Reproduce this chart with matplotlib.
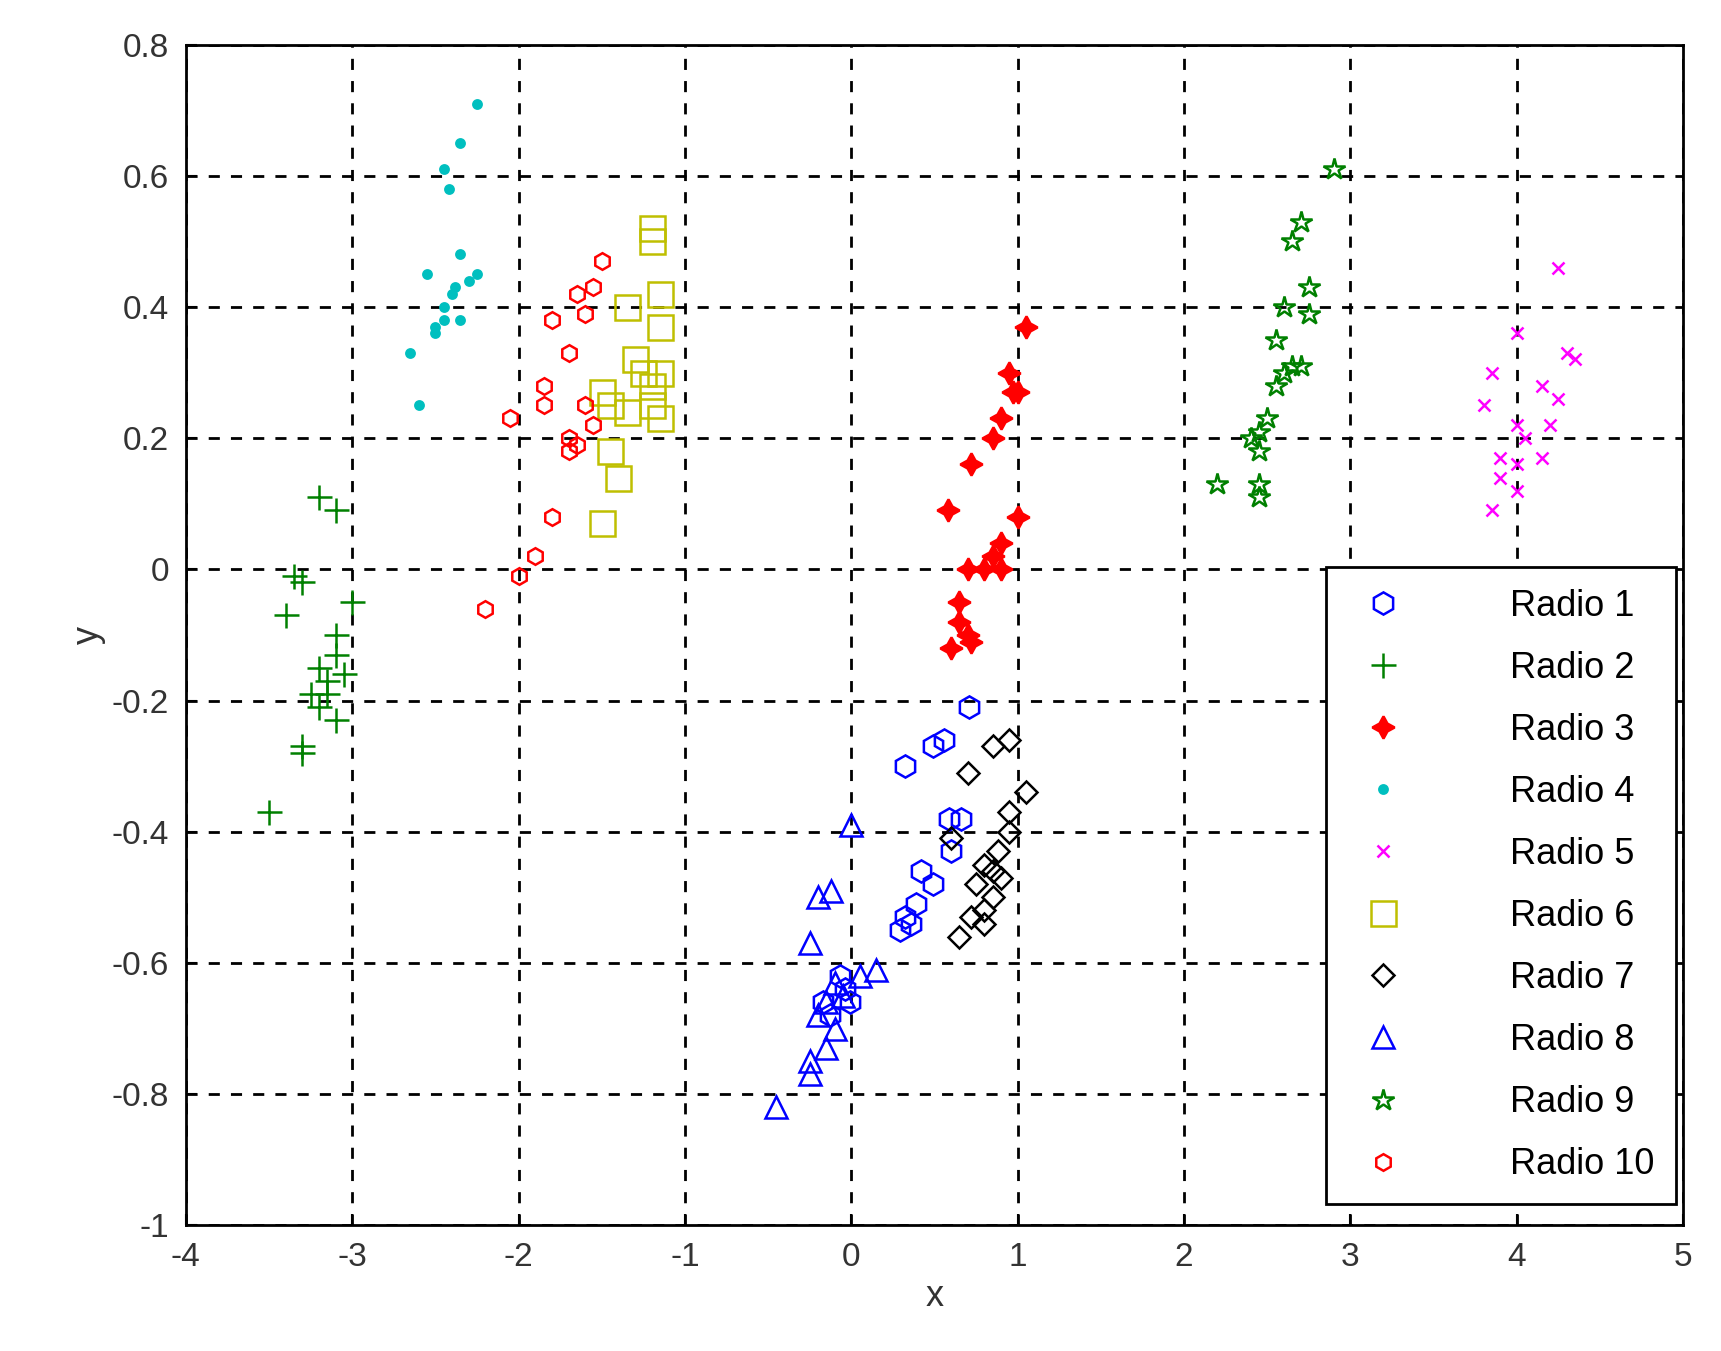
import matplotlib
matplotlib.use("Agg")
import matplotlib.pyplot as plt

plt.rcParams['font.family'] = ['Liberation Sans', 'DejaVu Sans']
plt.rcParams['axes.unicode_minus'] = False

r1x = [0.71, 0.32, 0.49, 0.56, 0.66, 0.59, 0.6, 0.42, 0.49, 0.39, 0.32, 0.29, 0.36, -0.01, -0.07, -0.13, -0.04, -0.17]
r1y = [-0.21, -0.30, -0.27, -0.26, -0.38, -0.38, -0.43, -0.46, -0.48, -0.51, -0.53, -0.55, -0.54, -0.66, -0.62, -0.68, -0.64, -0.66]
r2x = [-3.2, -3.1, -3.3, -3.35, -3.4, -3.0, -3.1, -3.1, -3.2, -3.15, -3.05, -3.25, -3.2, -3.1, -3.3, -3.3, -3.5, -3.15]
r2y = [0.11, 0.09, -0.02, -0.01, -0.07, -0.05, -0.10, -0.13, -0.15, -0.17, -0.16, -0.19, -0.21, -0.23, -0.27, -0.28, -0.37, -0.19]
r3x = [1.05, 0.95, 0.97, 1.0, 0.9, 0.85, 0.72, 0.58, 1.0, 0.9, 0.85, 0.8, 0.9, 0.7, 0.65, 0.65, 0.7, 0.6, 0.72]
r3y = [0.37, 0.30, 0.27, 0.27, 0.23, 0.20, 0.16, 0.09, 0.08, 0.04, 0.02, 0.0, 0.0, 0.0, -0.05, -0.08, -0.10, -0.12, -0.11]
r4x = [-2.25, -2.35, -2.45, -2.42, -2.35, -2.55, -2.25, -2.3, -2.4, -2.45, -2.35, -2.5, -2.5, -2.65, -2.6, -2.45, -2.38]
r4y = [0.71, 0.65, 0.61, 0.58, 0.48, 0.45, 0.45, 0.44, 0.42, 0.40, 0.38, 0.37, 0.36, 0.33, 0.25, 0.38, 0.43]
r5x = [4.25, 4.0, 3.85, 4.3, 4.35, 4.15, 3.8, 4.25, 4.0, 4.05, 4.2, 3.9, 4.15, 4.0, 3.9, 4.0, 3.85]
r5y = [0.46, 0.36, 0.30, 0.33, 0.32, 0.28, 0.25, 0.26, 0.22, 0.20, 0.22, 0.17, 0.17, 0.16, 0.14, 0.12, 0.09]
r6x = [-1.2, -1.2, -1.15, -1.35, -1.15, -1.3, -1.25, -1.15, -1.2, -1.5, -1.45, -1.35, -1.2, -1.15, -1.45, -1.4, -1.5]
r6y = [0.52, 0.50, 0.42, 0.40, 0.37, 0.32, 0.30, 0.30, 0.28, 0.27, 0.25, 0.24, 0.25, 0.23, 0.18, 0.14, 0.07]
r7x = [0.95, 0.85, 1.05, 0.7, 0.95, 0.95, 0.88, 0.8, 0.9, 0.75, 0.85, 0.8, 0.72, 0.8, 0.65, 0.6, 0.85]
r7y = [-0.26, -0.27, -0.34, -0.31, -0.37, -0.40, -0.43, -0.45, -0.47, -0.48, -0.50, -0.52, -0.53, -0.54, -0.56, -0.41, -0.46]
r8x = [0.0, -0.12, -0.2, -0.25, 0.15, 0.05, -0.1, -0.15, -0.2, -0.1, -0.15, -0.25, -0.25, -0.45, -0.05]
r8y = [-0.39, -0.49, -0.5, -0.57, -0.61, -0.62, -0.63, -0.66, -0.68, -0.70, -0.73, -0.75, -0.77, -0.82, -0.65]
r9x = [2.9, 2.7, 2.65, 2.75, 2.6, 2.75, 2.55, 2.7, 2.65, 2.6, 2.55, 2.5, 2.45, 2.4, 2.45, 2.2, 2.45, 2.45]
r9y = [0.61, 0.53, 0.50, 0.43, 0.40, 0.39, 0.35, 0.31, 0.31, 0.30, 0.28, 0.23, 0.21, 0.20, 0.18, 0.13, 0.13, 0.11]
r10x = [-1.5, -1.55, -1.65, -1.6, -1.8, -1.7, -1.85, -1.85, -2.05, -1.6, -1.55, -1.7, -1.65, -1.7, -1.8, -1.9, -2.0, -2.2]
r10y = [0.47, 0.43, 0.42, 0.39, 0.38, 0.33, 0.28, 0.25, 0.23, 0.25, 0.22, 0.2, 0.19, 0.18, 0.08, 0.02, -0.01, -0.06]

series = [
    (r1x, r1y, 'h', 'blue', 'none', 16),
    (r2x, r2y, '+', 'green', 'green', 18),
    (r3x, r3y, (4, 1, 0), 'red', 'red', 16),
    (r4x, r4y, 'o', 'c', 'c', 6),
    (r5x, r5y, 'x', 'magenta', 'magenta', 9),
    (r6x, r6y, 's', 'y', 'none', 18),
    (r7x, r7y, 'D', 'k', 'none', 11),
    (r8x, r8y, '^', 'blue', 'none', 16),
    (r9x, r9y, '*', 'green', 'none', 16),
    (r10x, r10y, 'h', 'red', 'none', 12),
]

fig = plt.figure(figsize=(17.21, 13.51), dpi=100)
ax = fig.add_axes([0.108, 0.093, 0.87, 0.874])
for i, (x, y, m, c, fc, s) in enumerate(series):
    ax.plot(x, y, linestyle='none', marker=m, color=c, markerfacecolor=fc,
            markersize=s, markeredgewidth=1.8, label='Radio %d' % (i + 1))

ax.set_xlim(-4, 5)
ax.set_ylim(-1, 0.8)
ax.set_xticks(range(-4, 6))
ax.set_yticks([-1, -0.8, -0.6, -0.4, -0.2, 0, 0.2, 0.4, 0.6, 0.8])
ax.set_yticklabels(['-1', '-0.8', '-0.6', '-0.4', '-0.2', '0', '0.2', '0.4', '0.6', '0.8'])
ax.grid(True, color='k', linestyle=(0, (4, 4)), linewidth=2)
ax.tick_params(labelsize=24, direction='in', length=8, width=1.5, pad=12,
               labelcolor='#333333')
for sp in ax.spines.values():
    sp.set_linewidth(2)
ax.set_xlabel('x', fontsize=26, color='#333333')
ax.set_ylabel('y', fontsize=26, color='#333333')
leg = ax.legend(loc='lower right', bbox_to_anchor=(1.0, 0.012), fontsize=26,
                fancybox=False, edgecolor='k', framealpha=1, borderpad=0.6,
                labelspacing=0.75, handletextpad=2.5, borderaxespad=0.2)
leg.get_frame().set_linewidth(2)
fig.savefig('out.png')
